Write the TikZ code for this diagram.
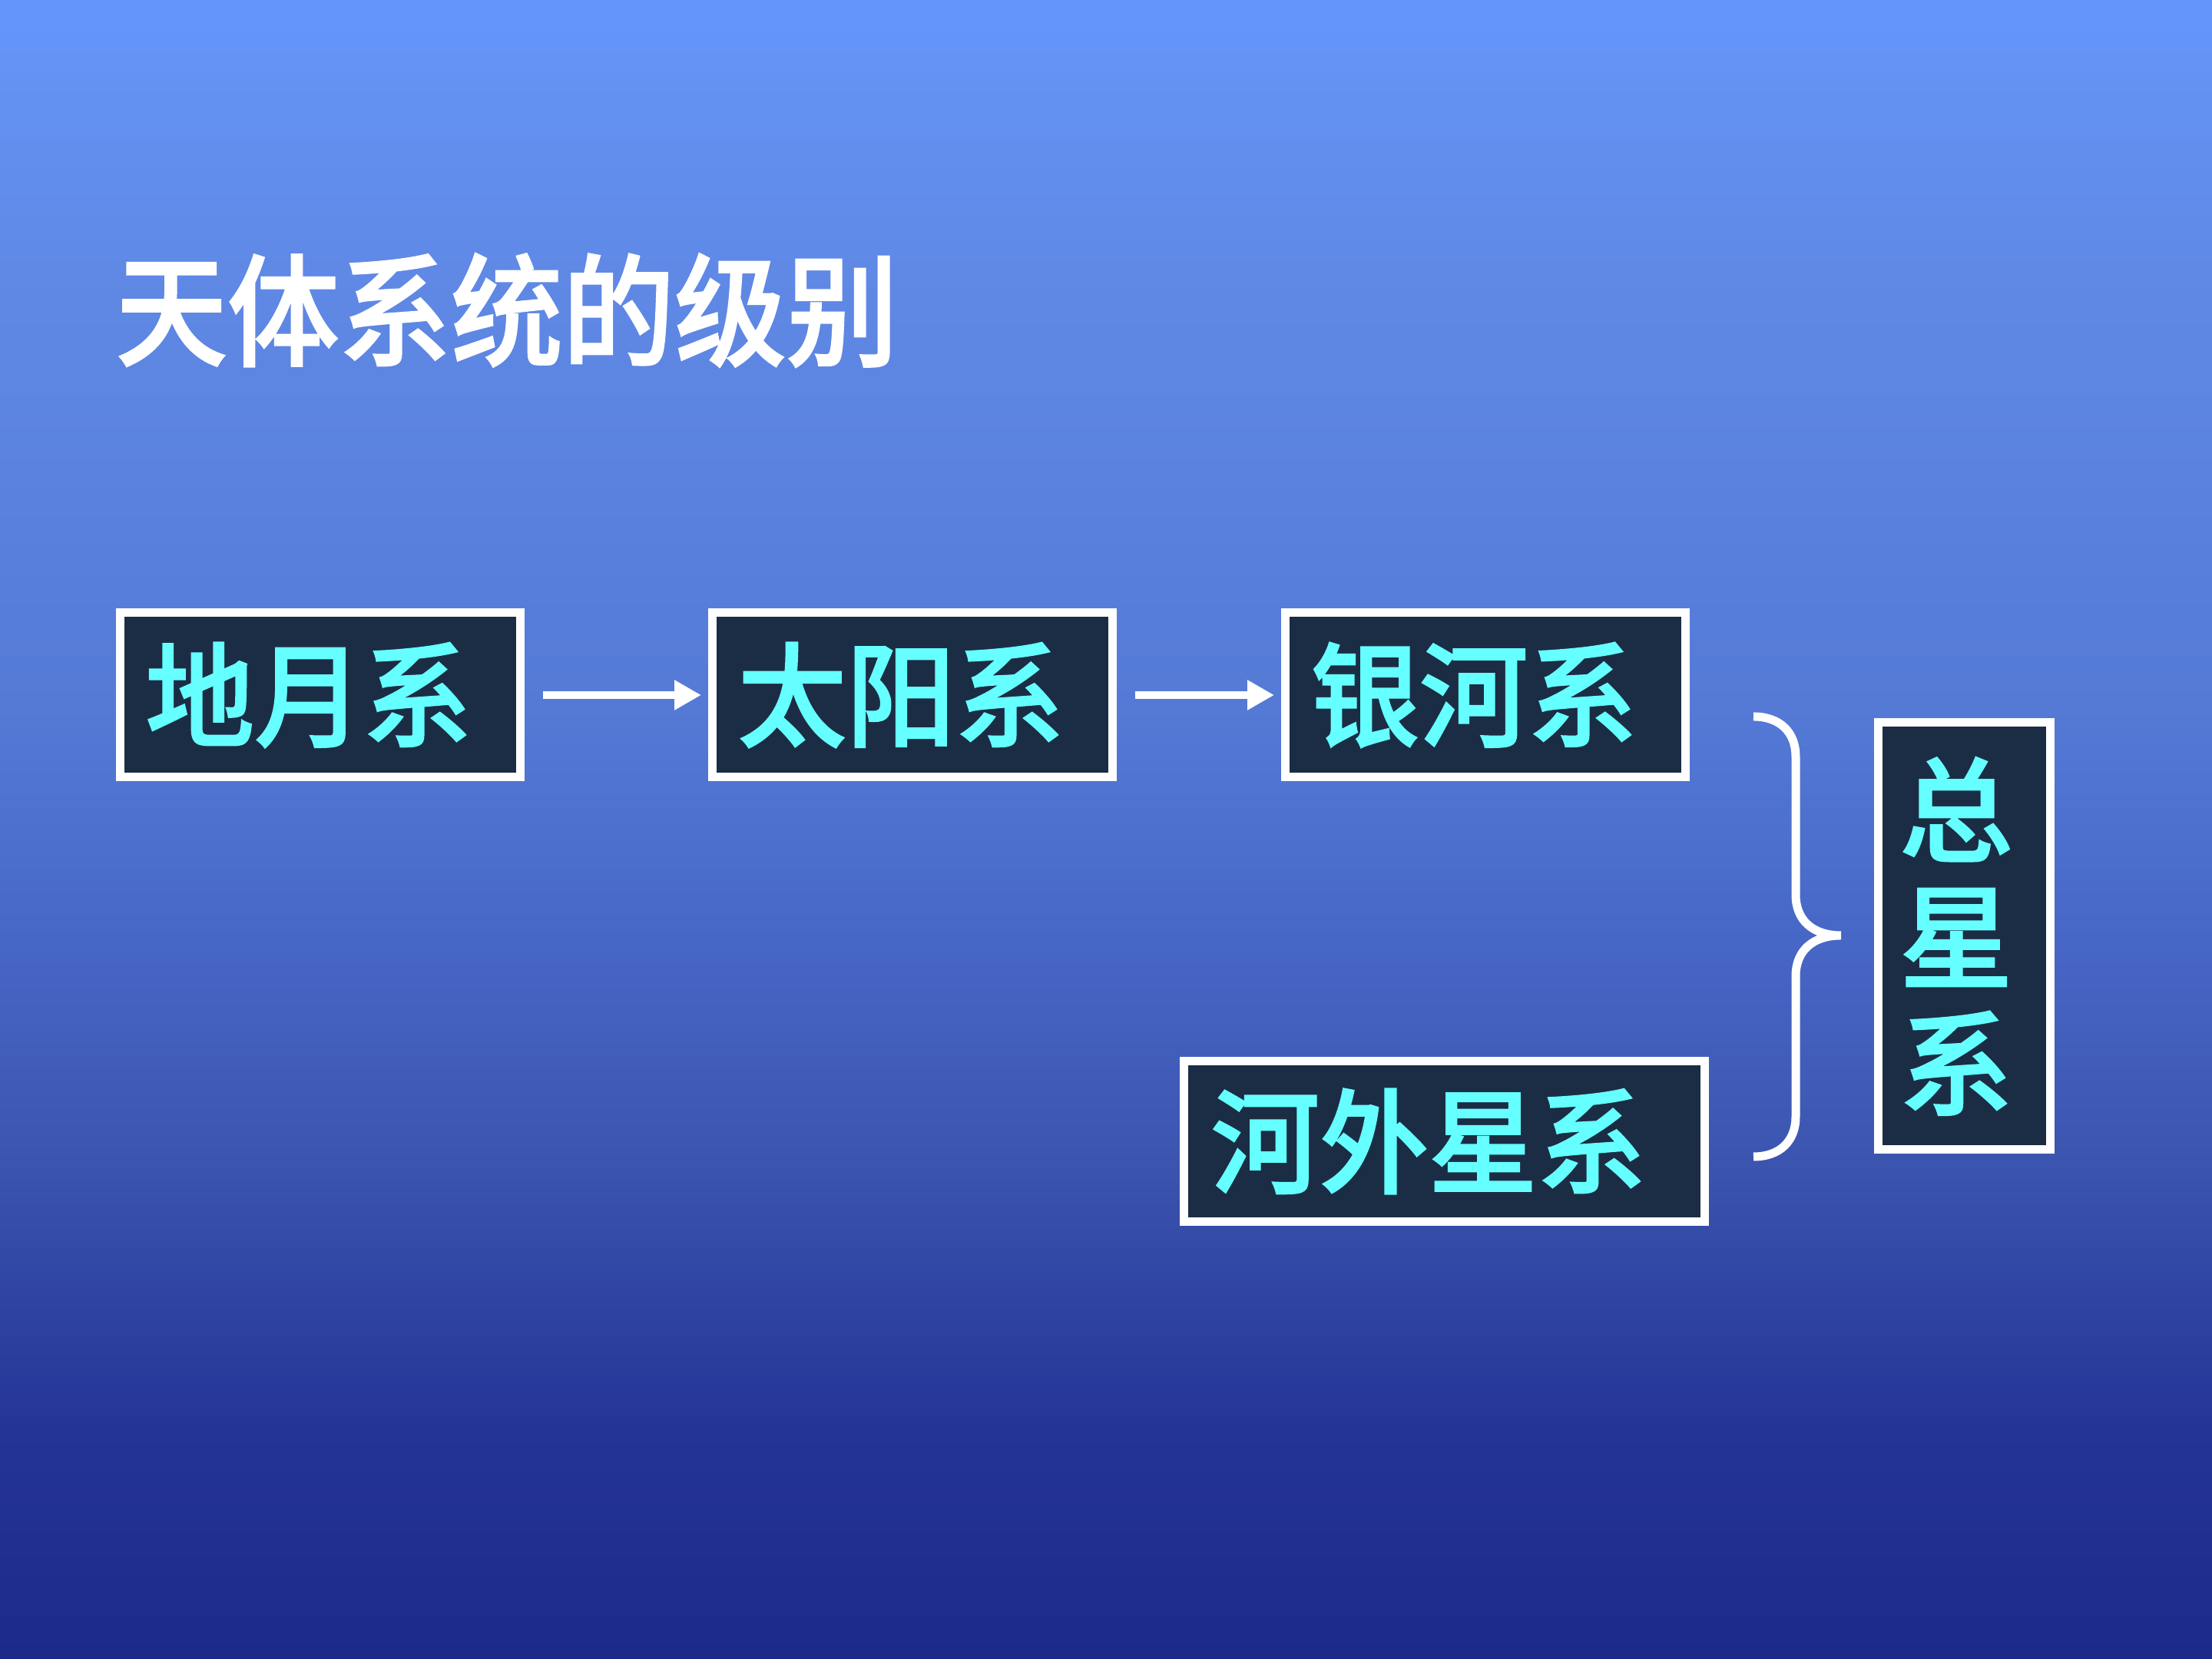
\documentclass[tikz,border=0pt]{standalone}
\usepackage{fontspec}
\usepackage{graphicx}
\usepackage{tikz}
\newfontfamily\cjk{Noto Sans CJK SC Medium}[FakeBold=1.5]
\definecolor{skyTop}{RGB}{100,150,250}
\definecolor{skyHigh}{RGB}{96,137,230}
\definecolor{skyMid}{RGB}{84,122,214}
\definecolor{skyLow}{RGB}{72,104,200}
\definecolor{skyDeep}{RGB}{60,86,176}
\definecolor{skyDark}{RGB}{36,52,150}
\definecolor{skyBottom}{RGB}{28,42,138}
\definecolor{boxNavy}{HTML}{1B2D44}
\definecolor{boxCyan}{HTML}{66FFFF}
\usetikzlibrary{arrows.meta}
% the shading lives on a 100bp square, the picture spans 25bp..75bp
\pgfdeclareverticalshading{skyshade}{100bp}{%
  color(0bp)=(skyBottom); color(25bp)=(skyBottom); color(31.9bp)=(skyDark);
  color(40.3bp)=(skyDeep); color(47.2bp)=(skyLow); color(53.7bp)=(skyMid);
  color(66.9bp)=(skyHigh); color(75bp)=(skyTop); color(100bp)=(skyTop)}

\begin{document}
\begin{tikzpicture}[x=1cm,y=1cm,
  every node/.style={inner sep=0pt},
  sysbox/.style={draw=white, line width=1.1mm, fill=boxNavy, text=boxCyan,
    font=\cjk\fontsize{42}{47}\selectfont},
  flowarrow/.style={white, line width=1mm, shorten <=2.4mm, shorten >=0.9mm,
    -{Triangle[length=3.5mm,width=3.7mm]}}]
  \shade[shading=skyshade] (0,0) rectangle (28.8,21.6);
  \useasboundingbox (0,0) rectangle (28.8,21.6);
  \node[anchor=west, text=white, font=\cjk\fontsize{45}{50}\selectfont] (title) at (1.50,17.56) {\scalebox{0.92}[1]{天体系统的级别}};
  \foreach \name/\x/\label in {dyx/4.17/地月系, tyx/11.88/太阳系, yhx/19.34/银河系} {
    \node[sysbox, minimum width=5.21cm, minimum height=2.14cm] (\name) at (\x,12.55) {\scalebox{0.96}[1]{\label}\kern3mm};
  }
  \foreach \from/\to in {dyx/tyx, tyx/yhx} {
    \draw[flowarrow] (\from.east) -- (\to.west);
  }
  \node[sysbox, minimum width=6.78cm, minimum height=2.09cm] (hwx) at (18.80,6.74) {\scalebox{0.96}[1]{河外星系}\kern4mm};
  \node[sysbox, minimum width=2.24cm, minimum height=5.56cm, align=center] (zxx) at (25.57,9.41) {总\kern2mm\\星\kern2mm\\系\kern2mm};
  % brace
  \draw[white, line width=1.1mm] (22.83,12.27) .. controls (23.18,12.27) and (23.38,12.06) .. (23.38,11.75)
    -- (23.38,9.95) .. controls (23.38,9.62) and (23.60,9.42) .. (23.97,9.42)
    .. controls (23.60,9.42) and (23.38,9.22) .. (23.38,8.89)
    -- (23.38,7.06) .. controls (23.38,6.75) and (23.18,6.54) .. (22.83,6.54);
\end{tikzpicture}
\end{document}
